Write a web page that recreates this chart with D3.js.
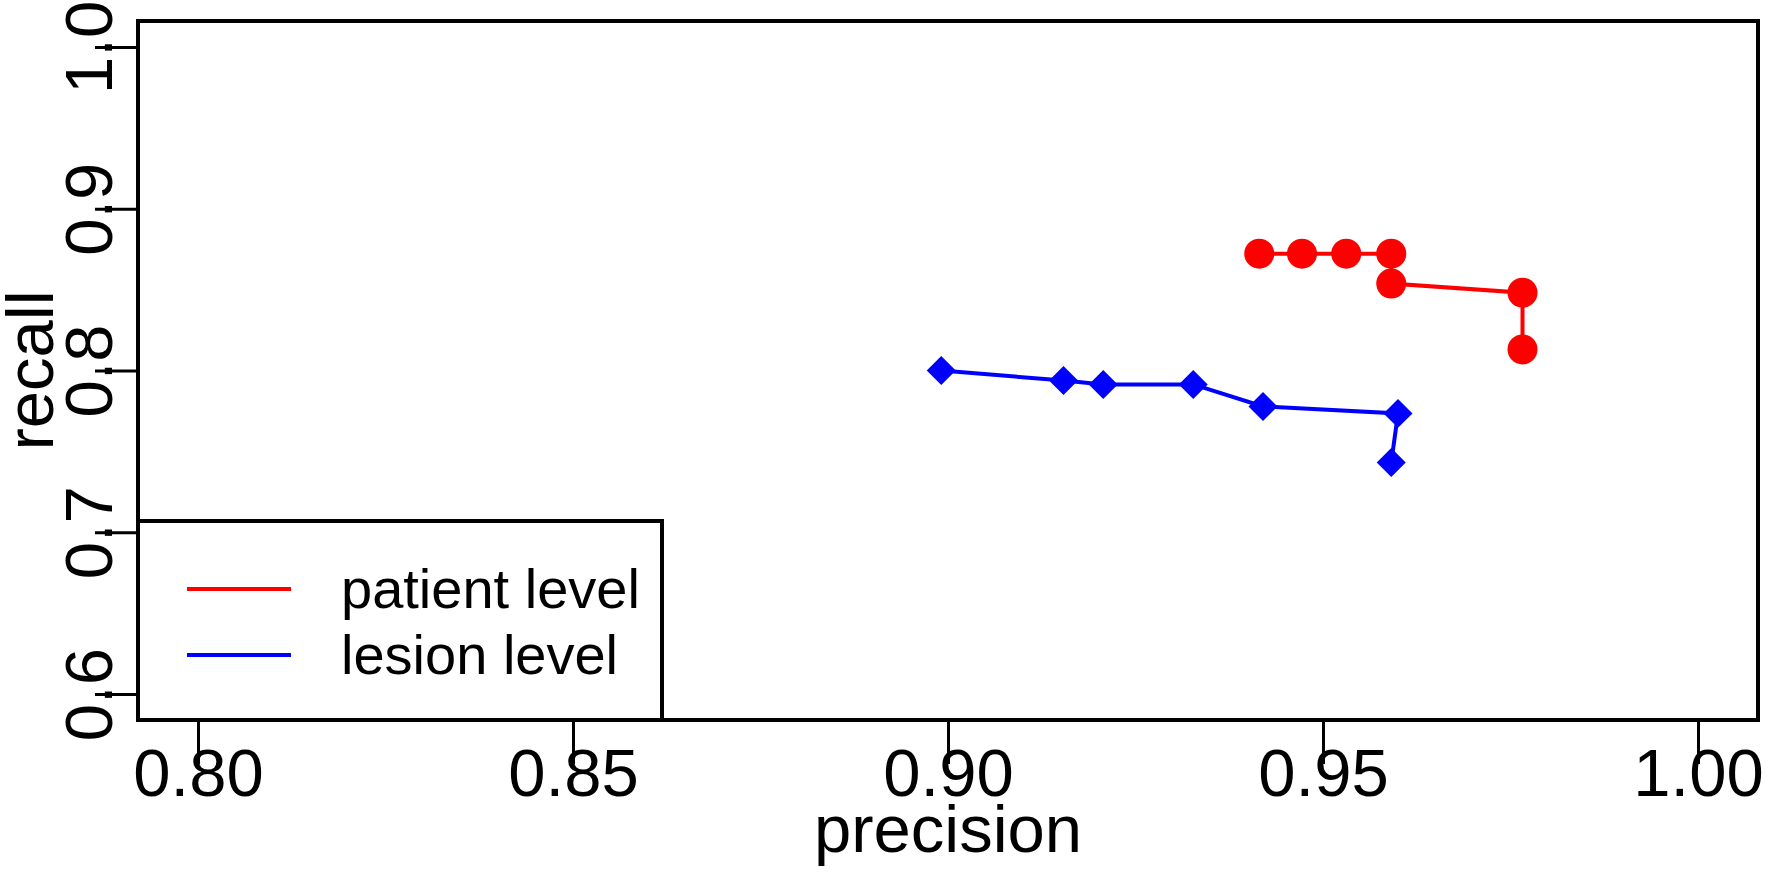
<!DOCTYPE html>
<html>
<head>
<meta charset="utf-8">
<script src="https://cdn.jsdelivr.net/npm/d3@7"></script>
<style>
  body { margin: 0; background: #fff; }
  svg { display: block; font-family: "Liberation Sans", Arial, Helvetica, sans-serif; }
</style>
</head>
<body>
<div id="chart"></div>
<script>
// values
const patientPrecision = [0.9415, 0.9472, 0.9531, 0.9591, 0.9591, 0.9766, 0.9766];
const patientRecall    = [0.8722, 0.8722, 0.8722, 0.8722, 0.8537, 0.8481, 0.8130];
const lesionPrecision  = [0.8991, 0.9154, 0.9207, 0.9327, 0.9420, 0.9600, 0.9591];
const lesionRecall     = [0.8000, 0.7938, 0.7914, 0.7914, 0.7778, 0.7735, 0.7432];

const xTicks = [0.80, 0.85, 0.90, 0.95, 1.00];
const yTicks = [0.6, 0.7, 0.8, 0.9, 1.0];
const legendLabels = ["patient level", "lesion level"];
const seriesColors = ["#ff0000", "#0000ff"];

const width = 1772, height = 873;
const margins = {top: 21, right: 14, bottom: 153, left: 138};

const svg = d3.select("#chart")
  .append("svg")
  .attr("width", width)
  .attr("height", height);

svg.append("rect")
  .attr("width", width)
  .attr("height", height)
  .attr("fill", "#fff");

// R-style 4% padding around xlim / ylim
const xScale = d3.scaleLinear()
  .domain([0.8 - 0.008, 1.0 + 0.008])
  .range([margins.left, width - margins.right]);

const yScale = d3.scaleLinear()
  .domain([0.6 - 0.016, 1.0 + 0.016])
  .range([height - margins.bottom, margins.top]);

// x-axis
const xAxis = d3.axisBottom(xScale)
  .tickValues(xTicks)
  .tickSize(44)
  .tickFormat(d3.format(".2f"));
const gx = svg.append("g")
  .attr("transform", `translate(0,${height - margins.bottom})`)
  .call(xAxis);
gx.select(".domain").remove();
gx.selectAll(".tick line").attr("stroke", "#000").attr("stroke-width", 3);
gx.selectAll(".tick text")
  .attr("y", 76)
  .attr("dy", 0)
  .attr("fill", "#000")
  .style("font-size", "67px")
  .style("font-family", "Liberation Sans, Arial, sans-serif");

// y-axis, labels parallel to the axis
const yAxis = d3.axisLeft(yScale)
  .tickValues(yTicks)
  .tickSize(43)
  .tickFormat(d3.format(".1f"));
const gy = svg.append("g")
  .attr("transform", `translate(${margins.left},0)`)
  .call(yAxis);
gy.select(".domain").remove();
gy.selectAll(".tick line").attr("stroke", "#000").attr("stroke-width", 3);
gy.selectAll(".tick text")
  .attr("x", 0)
  .attr("dy", 0)
  .attr("transform", "translate(-26,0) rotate(-90)")
  .attr("text-anchor", "middle")
  .attr("fill", "#000")
  .style("font-size", "67px")
  .style("font-family", "Liberation Sans, Arial, sans-serif");

// series
const series = [
  {name: legendLabels[0], color: seriesColors[0], pts: patientPrecision.map((p, i) => [p, patientRecall[i]])},
  {name: legendLabels[1], color: seriesColors[1], pts: lesionPrecision.map((p, i) => [p, lesionRecall[i]])}
];

const line = d3.line()
  .x(d => xScale(d[0]))
  .y(d => yScale(d[1]));

svg.selectAll("path.series")
  .data(series)
  .join("path")
    .attr("class", "series")
    .attr("d", d => line(d.pts))
    .attr("fill", "none")
    .attr("stroke", d => d.color)
    .attr("stroke-width", 4);

// patient level: filled circles
svg.selectAll("circle.pt")
  .data(series[0].pts)
  .join("circle")
    .attr("class", "pt")
    .attr("cx", d => xScale(d[0]))
    .attr("cy", d => yScale(d[1]))
    .attr("r", 15)
    .attr("fill", series[0].color);

// lesion level: filled diamonds
const diamond = d3.symbol().type(d3.symbolSquare).size(420);
svg.selectAll("path.dm")
  .data(series[1].pts)
  .join("path")
    .attr("class", "dm")
    .attr("d", diamond)
    .attr("transform", d => `translate(${xScale(d[0])},${yScale(d[1])}) rotate(45)`)
    .attr("fill", series[1].color);

// plot frame
svg.append("rect")
  .attr("x", margins.left)
  .attr("y", margins.top)
  .attr("width", width - margins.right - margins.left)
  .attr("height", height - margins.bottom - margins.top)
  .attr("fill", "none")
  .attr("stroke", "#000")
  .attr("stroke-width", 4);

// legend box in the bottom-left corner
const legend = svg.append("g");
legend.append("rect")
  .attr("x", margins.left)
  .attr("y", 521)
  .attr("width", 524)
  .attr("height", height - margins.bottom - 521)
  .attr("fill", "#fff")
  .attr("stroke", "#000")
  .attr("stroke-width", 4);

const rows = legend.selectAll("g.row")
  .data(series)
  .join("g")
    .attr("class", "row")
    .attr("transform", (d, i) => `translate(0,${589 + i * 66})`);
rows.append("line")
  .attr("x1", 187).attr("x2", 291)
  .attr("stroke", d => d.color)
  .attr("stroke-width", 4);
rows.append("text")
  .attr("x", 341)
  .attr("y", 19)
  .style("font-size", "56px")
  .text(d => d.name);

// axis titles
svg.append("text")
  .attr("x", (margins.left + width - margins.right) / 2)
  .attr("y", 852)
  .attr("text-anchor", "middle")
  .style("font-size", "67px")
  .text("precision");

svg.append("text")
  .attr("transform", `translate(53,${(margins.top + height - margins.bottom) / 2}) rotate(-90)`)
  .attr("text-anchor", "middle")
  .style("font-size", "67px")
  .text("recall");
</script>
</body>
</html>
